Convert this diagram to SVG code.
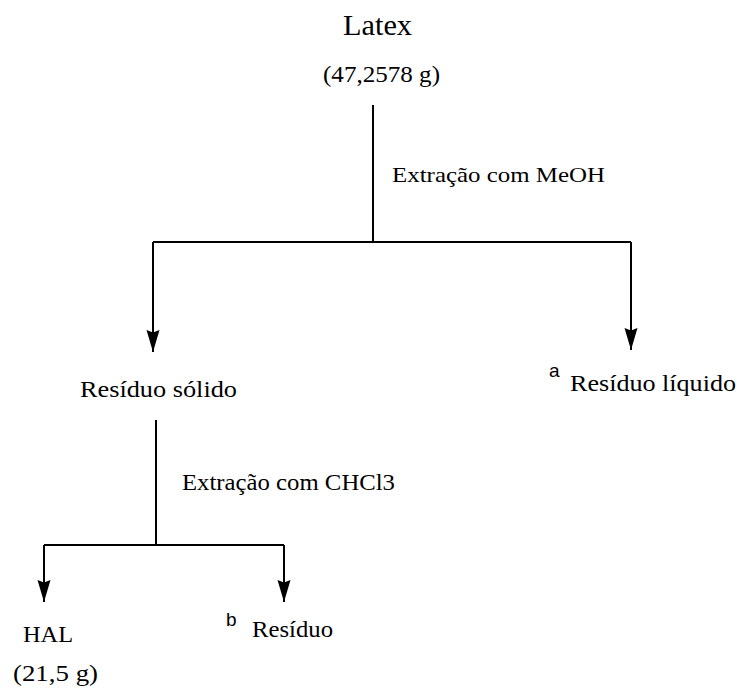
<svg xmlns="http://www.w3.org/2000/svg" width="742" height="690" viewBox="0 0 742 690">
  <style>
    .lbl { font-family: "Liberation Serif", "Times New Roman", serif; fill: #000; }
    .sup { font-family: "Liberation Sans", Arial, sans-serif; fill: #000; font-size: 19px; }
    .wire { stroke: #000; stroke-width: 2; fill: none; }
  </style>
  <defs>
    <marker id="arrow" viewBox="0 0 22 14" refX="22" refY="7" markerWidth="22" markerHeight="14" markerUnits="userSpaceOnUse" orient="auto">
      <path d="M0,0.5 L22,7 L0,13.5 L2.5,7 Z" fill="#000"/>
    </marker>
  </defs>
  <rect width="742" height="690" fill="#fff"/>

  <!-- connectors -->
  <g id="connectors">
    <path class="wire" d="M373,105 V242"/>
    <path class="wire" d="M153,242 H631"/>
    <path class="wire" d="M153,242 V352" marker-end="url(#arrow)"/>
    <path class="wire" d="M631,242 V350" marker-end="url(#arrow)"/>
    <path class="wire" d="M156,420 V545"/>
    <path class="wire" d="M44,545 H284"/>
    <path class="wire" d="M44,545 V602" marker-end="url(#arrow)"/>
    <path class="wire" d="M284,545 V602" marker-end="url(#arrow)"/>
    <text class="lbl" x="392" y="182" font-size="22" textLength="213" lengthAdjust="spacingAndGlyphs">Extração com MeOH</text>
    <text class="lbl" x="182" y="490" font-size="23" textLength="213" lengthAdjust="spacingAndGlyphs">Extração com CHCl3</text>
  </g>

  <!-- nodes -->
  <g id="latex">
    <text class="lbl" x="343" y="35" font-size="30" textLength="69" lengthAdjust="spacingAndGlyphs">Latex</text>
    <text class="lbl" x="323" y="82" font-size="23" textLength="117" lengthAdjust="spacingAndGlyphs">(47,2578 g)</text>
  </g>
  <g id="residuo-solido">
    <text class="lbl" x="80" y="397" font-size="23" textLength="157" lengthAdjust="spacingAndGlyphs">Resíduo sólido</text>
  </g>
  <g id="residuo-liquido">
    <text class="sup" x="549" y="377">a</text>
    <text class="lbl" x="570" y="391" font-size="24" textLength="166" lengthAdjust="spacingAndGlyphs">Resíduo líquido</text>
  </g>
  <g id="hal">
    <text class="lbl" x="23" y="642" font-size="24" textLength="50" lengthAdjust="spacingAndGlyphs">HAL</text>
    <text class="lbl" x="13" y="681" font-size="23" textLength="85" lengthAdjust="spacingAndGlyphs">(21,5 g)</text>
  </g>
  <g id="residuo-b">
    <text class="sup" x="226" y="626">b</text>
    <text class="lbl" x="252" y="637" font-size="24" textLength="81" lengthAdjust="spacingAndGlyphs">Resíduo</text>
  </g>
</svg>
